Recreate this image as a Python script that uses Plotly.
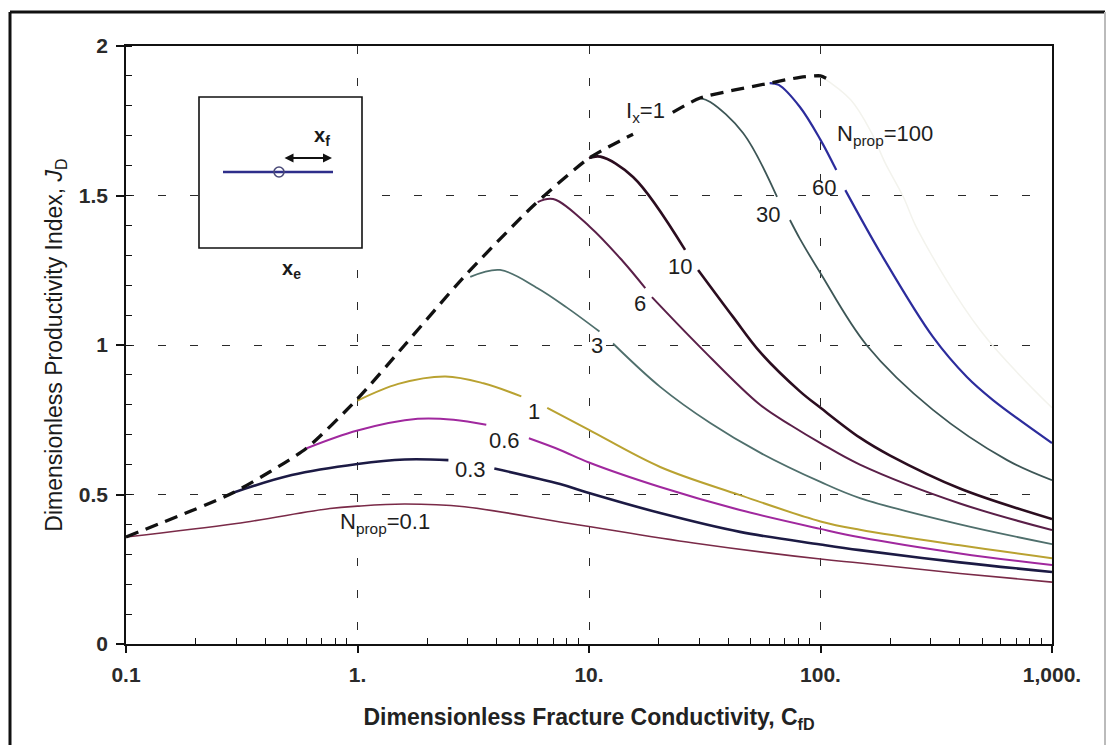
import math
import plotly.graph_objects as go

# ---------------- data ----------------
env_x = [0.1, 0.29, 0.6, 1.0, 1.6, 2.86, 5.73, 10, 15.5, None, 23, 30.2, 60.3, 81.5, 100, 110]
env_y = [0.358, 0.506, 0.654, 0.82, 1.0, 1.225, 1.465, 1.625, 1.705, None, 1.778, 1.826, 1.876, 1.895, 1.90, 1.885]

n01_x = [0.1, 0.3, 0.76, 1, 1.6, 2.9, 7.5, 10, 28.3, 100, 148, 400, 1000]
n01_y = [0.358, 0.403, 0.453, 0.461, 0.468, 0.459, 0.408, 0.393, 0.338, 0.284, 0.271, 0.236, 0.207]

n03_x = [0.29, 0.52, 1, 1.6, 2.47, None, 3.9, 7.5, 10, 20.3, 44.9, 100, 148, 400, 1000]
n03_y = [0.506, 0.565, 0.602, 0.617, 0.615, None, 0.587, 0.535, 0.505, 0.438, 0.375, 0.333, 0.314, 0.273, 0.241]

n06_x = [0.6, 1, 1.82, 2.6, 3.6, None, 5.5, 7.5, 10, 20.3, 44.9, 100, 148, 400, 1000]
n06_y = [0.654, 0.714, 0.753, 0.75, 0.733, None, 0.688, 0.649, 0.607, 0.525, 0.448, 0.385, 0.357, 0.303, 0.264]

n1_x = [1, 1.5, 2.4, 3.5, 5.1, None, 6.6, 10, 20.3, 44.9, 100, 148, 400, 1000]
n1_y = [0.814, 0.87, 0.895, 0.872, 0.828, None, 0.79, 0.716, 0.592, 0.498, 0.41, 0.382, 0.33, 0.287]

n3_x = [3.07, 4.13, 6, 8.03, 11.1, None, 12.7, 20.3, 33.4, 54.8, 100, 148, 400, 1000]
n3_y = [1.228, 1.251, 1.19, 1.125, 1.045, None, 1.005, 0.86, 0.739, 0.64, 0.542, 0.488, 0.40, 0.334]

n6_x = [6.0, 7.0, 10.1, 14, 17.5, None, 18.7, 30.2, 54.8, 75, 100, 148, 400, 1000]
n6_y = [1.478, 1.488, 1.395, 1.28, 1.19, None, 1.16, 0.993, 0.80, 0.73, 0.672, 0.60, 0.47, 0.381]

n10_x = [10, 11.2, 15.5, 26, None, 29.6, 41.9, 55, 81.5, 100, 148, 200, 400, 1000]
n10_y = [1.625, 1.63, 1.562, 1.318, None, 1.251, 1.094, 0.975, 0.845, 0.79, 0.69, 0.63, 0.52, 0.418]

n30_x = [30.2, 33.4, 46.3, 64.9, None, 73.8, 81.5, 100, 158, 306, 640, 1000]
n30_y = [1.826, 1.813, 1.709, 1.495, None, 1.418, 1.355, 1.24, 1.0, 0.783, 0.615, 0.548]

n60_x = [60.3, 66, 81.5, 100, 117, None, 128, 186, 306, 429, 556, 1000]
n60_y = [1.876, 1.87, 1.796, 1.686, 1.585, None, 1.518, 1.294, 1.027, 0.893, 0.816, 0.672]

n100_x = [100, 135, 166, 190, 228, 263, 489, 1000]
n100_y = [1.90, 1.82, 1.71, 1.61, 1.495, 1.385, 1.05, 0.79]

x_tick_vals = [0.1, 1, 10, 100, 1000]
x_tick_text = ["0.1", "1.", "10.", "100.", "1,000."]
y_tick_vals = [0, 0.5, 1, 1.5, 2]
y_tick_text = ["0", "0.5", "1", "1.5", "2"]

curve_labels = ["N<sub>prop</sub>=0.1", "0.3", "0.6", "1", "3", "6", "10", "30", "60",
                "N<sub>prop</sub>=100", "I<sub>x</sub>=1"]
label_x = [1.315, 3.09, 4.3, 5.78, 10.8, 16.6, 24.7, 59.3, 103.5, 190, 17.5]
label_y = [0.405, 0.582, 0.682, 0.776, 1.0, 1.14, 1.261, 1.435, 1.528, 1.702, 1.779]

# ---------------- figure ----------------
fig = go.Figure()

series = [
    (n100_x, n100_y, "#f3f3ed", 1.5),
    (n01_x, n01_y, "#7a2a48", 1.6),
    (n03_x, n03_y, "#1c1a44", 2.6),
    (n06_x, n06_y, "#a0289e", 2.0),
    (n1_x, n1_y, "#b9a231", 2.0),
    (n3_x, n3_y, "#4f6f6c", 1.8),
    (n6_x, n6_y, "#5a1f48", 2.0),
    (n10_x, n10_y, "#2b0d1f", 2.6),
    (n30_x, n30_y, "#3d5656", 1.8),
    (n60_x, n60_y, "#2c2c9c", 2.2),
]
for xs, ys, col, w in series:
    fig.add_trace(go.Scatter(x=xs, y=ys, mode="lines", connectgaps=False,
                             line=dict(color=col, width=w, shape="spline", smoothing=1.0),
                             showlegend=False, hoverinfo="skip"))

fig.add_trace(go.Scatter(x=env_x, y=env_y, mode="lines", connectgaps=False,
                         line=dict(color="#111111", width=3.3, dash="13px,8px",
                                   shape="spline", smoothing=0.6),
                         showlegend=False, hoverinfo="skip"))

FONT = "Liberation Sans, Arial, sans-serif"
for t, lx, ly in zip(curve_labels, label_x, label_y):
    fig.add_annotation(x=math.log10(lx), y=ly, xref="x", yref="y", text=t, showarrow=False,
                       font=dict(family=FONT, size=22, color="#1e1e1e"))

minor_x = [m * 10 ** d for d in (-1, 0, 1, 2) for m in range(2, 10)]

fig.update_xaxes(
    type="log", range=[-1, 3], tickmode="array", tickvals=x_tick_vals, ticktext=x_tick_text,
    ticks="outside", ticklen=7, tickwidth=1.5, tickcolor="#111",
    showline=True, linecolor="#111", linewidth=1.6, mirror=True,
    showgrid=True, gridcolor="#2a2a2a", gridwidth=1.4, griddash="8px,24px",
    tickfont=dict(family=FONT, size=21, color="#2a2a2a", weight="bold"),
    ticklabelstandoff=4,
    minor=dict(tickmode="array", tickvals=minor_x, ticks="inside", ticklen=6,
               tickwidth=1.2, tickcolor="#111", showgrid=False),
    title=dict(text="Dimensionless Fracture Conductivity, C<sub>fD</sub>",
               font=dict(family=FONT, size=23, color="#222", weight="bold"), standoff=24),
    zeroline=False,
)
fig.update_yaxes(
    range=[0, 2], tickmode="array", tickvals=y_tick_vals, ticktext=y_tick_text,
    ticks="outside", ticklen=8, tickwidth=1.5, tickcolor="#111",
    showline=True, linecolor="#111", linewidth=1.6, mirror=True,
    showgrid=True, gridcolor="#2a2a2a", gridwidth=1.4, griddash="8px,24px",
    tickfont=dict(family=FONT, size=21, color="#2a2a2a", weight="bold"),
    ticklabelstandoff=4,
    minor=dict(dtick=0.1, ticks="inside", ticklen=6, tickwidth=1.2, tickcolor="#111", showgrid=False),
    title=dict(text="Dimensionless Productivity Index, <i>J</i><sub>D</sub>",
               font=dict(family="Liberation Sans Narrow, Arial Narrow, Liberation Sans, Arial",
                         size=23, color="#1a1a1a"), standoff=10),
    zeroline=False,
)

# inset schematic and outer frame (paper coordinates)
def px(xp):
    return (xp - 126) / 926.0

def py(yp):
    return (644 - yp) / 598.0

shapes = [
    dict(type="rect", xref="paper", yref="paper", x0=px(199), x1=px(362), y0=py(248), y1=py(97),
         line=dict(color="#111", width=1.6), fillcolor="white", layer="above"),
    dict(type="line", xref="paper", yref="paper", x0=px(223), x1=px(333), y0=py(172), y1=py(172),
         line=dict(color="#2e2e8a", width=2.6), layer="above"),
    dict(type="circle", xref="paper", yref="paper", x0=px(274), x1=px(284), y0=py(177), y1=py(167),
         line=dict(color="#4a4a78", width=1.6), fillcolor="rgba(0,0,0,0)", layer="above"),
    dict(type="line", xref="paper", yref="paper", x0=px(10), x1=px(1105), y0=py(12), y1=py(12),
         line=dict(color="#111", width=3), layer="above"),
    dict(type="line", xref="paper", yref="paper", x0=px(10), x1=px(10), y0=py(12), y1=py(760),
         line=dict(color="#111", width=3), layer="above"),
    dict(type="line", xref="paper", yref="paper", x0=px(1105), x1=px(1105), y0=py(12), y1=py(760),
         line=dict(color="#bbbbbb", width=2), layer="above"),
]
fig.update_layout(shapes=shapes)

fig.add_annotation(xref="paper", yref="paper", x=px(332), y=py(158), ax=-49, ay=0,
                   text="", showarrow=True, arrowhead=2, arrowside="end+start",
                   arrowsize=1, arrowwidth=1.8, arrowcolor="#111")
fig.add_annotation(xref="paper", yref="paper", x=px(312), y=py(151), text="x<sub>f</sub>",
                   showarrow=False, yanchor="bottom",
                   font=dict(family=FONT, size=20, color="#1a1a1a", weight="bold"))
fig.add_annotation(xref="paper", yref="paper", x=px(280), y=py(255), text="x<sub>e</sub>",
                   showarrow=False, yanchor="top",
                   font=dict(family=FONT, size=20, color="#1a1a1a", weight="bold"))

fig.update_layout(
    width=1109, height=745,
    margin=dict(l=126, r=57, t=46, b=101, autoexpand=False),
    paper_bgcolor="white", plot_bgcolor="white",
    showlegend=False,
)

fig.write_html("out.html")
